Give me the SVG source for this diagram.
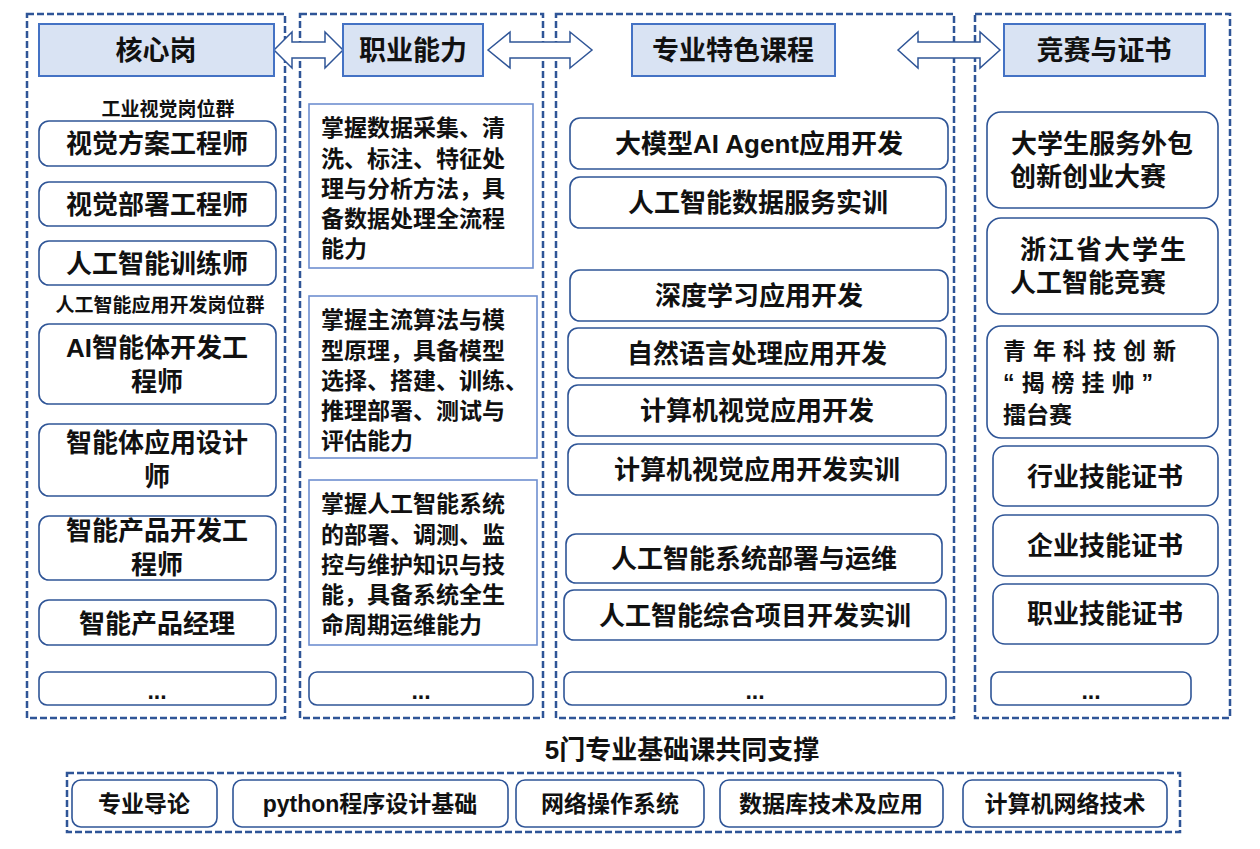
<svg xmlns="http://www.w3.org/2000/svg" width="1260" height="849" viewBox="0 0 1260 849">
<style>
text{font-family:"Liberation Sans","Noto Sans CJK SC",sans-serif;font-weight:bold;fill:#111}
.col{fill:none;stroke:#2f5597;stroke-width:2.5;stroke-dasharray:7,3}
.hd{fill:#d9e3f3;stroke:#4472c4;stroke-width:2}
.rb{fill:#fff;stroke:#2f5597;stroke-width:1.6}
.sq{fill:#fff;stroke:#6f8fd0;stroke-width:1.6}
.arr{fill:#fff;stroke:#2f5597;stroke-width:1.5}
.h{font-size:27px;text-anchor:middle}
.t{font-size:26px;text-anchor:middle}
.p{font-size:23px}
.s{font-size:19px;text-anchor:middle}
.b{font-size:23px;text-anchor:middle}
</style>
<rect width="1260" height="849" fill="#fff"/>
<g id="columns">
<rect class="col" x="27" y="14" width="258" height="704"/>
<rect class="col" x="300" y="14" width="243" height="704"/>
<rect class="col" x="556" y="14" width="398" height="704"/>
<rect class="col" x="975" y="14" width="255" height="704"/>
<rect class="col" x="67" y="773" width="1113" height="59"/>
</g>
<g id="connectors">
<path class="arr" d="M274,50 L292,32 L292,42 L325,42 L325,32 L343,50 L325,68 L325,58 L292,58 L292,68 Z"/>
<path class="arr" d="M488,50 L510,32 L510,42 L570,42 L570,32 L592,50 L570,68 L570,58 L510,58 L510,68 Z"/>
<path class="arr" d="M898,50 L918,32 L918,42 L980,42 L980,32 L1000,50 L980,68 L980,58 L918,58 L918,68 Z"/>
</g>
<g id="h1"><rect class="hd" x="39" y="24" width="235" height="52"/><text class="h" x="156" y="60">核心岗</text></g>
<g id="h2"><rect class="hd" x="343" y="24" width="140" height="52"/><text class="h" x="413" y="60">职业能力</text></g>
<g id="h3"><rect class="hd" x="632" y="24" width="203" height="52"/><text class="h" x="733" y="60">专业特色课程</text></g>
<g id="h4"><rect class="hd" x="1004" y="24" width="201" height="52"/><text class="h" x="1104" y="60">竞赛与证书</text></g>

<g id="c1">
<text class="s" x="168" y="116">工业视觉岗位群</text>
<rect class="rb" x="39" y="121" width="237" height="45" rx="10"/><text class="t" x="157" y="153">视觉方案工程师</text>
<rect class="rb" x="39" y="182" width="237" height="44" rx="10"/><text class="t" x="157" y="214">视觉部署工程师</text>
<rect class="rb" x="39" y="241" width="237" height="44" rx="10"/><text class="t" x="157" y="273">人工智能训练师</text>
<text class="s" x="160" y="312">人工智能应用开发岗位群</text>
<rect class="rb" x="39" y="324" width="237" height="80" rx="10"/><text class="t" x="157" y="357">AI智能体开发工</text><text class="t" x="157" y="391">程师</text>
<rect class="rb" x="39" y="424" width="237" height="72" rx="10"/><text class="t" x="157" y="452">智能体应用设计</text><text class="t" x="157" y="486">师</text>
<rect class="rb" x="39" y="516" width="237" height="64" rx="10"/><text class="t" x="157" y="540">智能产品开发工</text><text class="t" x="157" y="574">程师</text>
<rect class="rb" x="39" y="600" width="237" height="45" rx="10"/><text class="t" x="157" y="633">智能产品经理</text>
<rect class="rb" x="39" y="672" width="237" height="33" rx="8"/><text class="b" x="157" y="699">...</text>
</g>
<g id="c2">
<rect class="sq" x="309" y="104" width="224" height="164"/>
<text class="p" x="321" y="136">掌握数据采集、清</text><text class="p" x="321" y="167">洗、标注、特征处</text><text class="p" x="321" y="197">理与分析方法，具</text><text class="p" x="321" y="227">备数据处理全流程</text><text class="p" x="321" y="257">能力</text>
<rect class="sq" x="309" y="296" width="228" height="162"/>
<text class="p" x="321" y="328">掌握主流算法与模</text><text class="p" x="321" y="359">型原理，具备模型</text><text class="p" x="321" y="389">选择、搭建、训练、</text><text class="p" x="321" y="419">推理部署、测试与</text><text class="p" x="321" y="449">评估能力</text>
<rect class="sq" x="309" y="480" width="228" height="165"/>
<text class="p" x="321" y="512">掌握人工智能系统</text><text class="p" x="321" y="543">的部署、调测、监</text><text class="p" x="321" y="573">控与维护知识与技</text><text class="p" x="321" y="603">能，具备系统全生</text><text class="p" x="321" y="633">命周期运维能力</text>
<rect class="rb" x="309" y="672" width="224" height="33" rx="8"/><text class="b" x="421" y="699">...</text>
</g>
<g id="c3">
<rect class="rb" x="570" y="118" width="378" height="51" rx="10"/><text class="t" x="759" y="153">大模型AI Agent应用开发</text>
<rect class="rb" x="570" y="177" width="376" height="51" rx="10"/><text class="t" x="758" y="212">人工智能数据服务实训</text>
<rect class="rb" x="570" y="270" width="378" height="51" rx="10"/><text class="t" x="759" y="305">深度学习应用开发</text>
<rect class="rb" x="568" y="328" width="378" height="50" rx="10"/><text class="t" x="757" y="363">自然语言处理应用开发</text>
<rect class="rb" x="568" y="385" width="378" height="51" rx="10"/><text class="t" x="757" y="420">计算机视觉应用开发</text>
<rect class="rb" x="568" y="444" width="378" height="51" rx="10"/><text class="t" x="757" y="479">计算机视觉应用开发实训</text>
<rect class="rb" x="566" y="534" width="376" height="49" rx="10"/><text class="t" x="754" y="568">人工智能系统部署与运维</text>
<rect class="rb" x="564" y="590" width="382" height="50" rx="10"/><text class="t" x="755" y="625">人工智能综合项目开发实训</text>
<rect class="rb" x="564" y="672" width="382" height="33" rx="8"/><text class="b" x="755" y="699">...</text>
</g>
<g id="c4">
<rect class="rb" x="987" y="112" width="231" height="96" rx="14"/><text class="t" x="1102" y="153">大学生服务外包</text><text class="t" x="1088" y="186">创新创业大赛</text>
<rect class="rb" x="987" y="218" width="231" height="96" rx="14"/><text class="t" x="1104" y="259" letter-spacing="2">浙江省大学生</text><text class="t" x="1088" y="292">人工智能竞赛</text>
<rect class="rb" x="987" y="326" width="231" height="112" rx="14"/>
<text class="p" x="1003" y="359" font-size="25" letter-spacing="7">青年科技创新</text><text class="p" x="1003" y="391" font-size="25" letter-spacing="7">“揭榜挂帅”</text><text class="p" x="1003" y="423" font-size="25">擂台赛</text>
<rect class="rb" x="993" y="446" width="225" height="60" rx="12"/><text class="t" x="1105" y="486">行业技能证书</text>
<rect class="rb" x="993" y="515" width="225" height="61" rx="12"/><text class="t" x="1105" y="555">企业技能证书</text>
<rect class="rb" x="993" y="584" width="225" height="60" rx="12"/><text class="t" x="1105" y="623">职业技能证书</text>
<rect class="rb" x="991" y="672" width="200" height="33" rx="8"/><text class="b" x="1091" y="699">...</text>
</g>
<g id="base">
<text class="t" x="682" y="759">5门专业基础课共同支撑</text>
<rect class="rb" x="72" y="780" width="145" height="47" rx="9"/><text class="b" x="144" y="812">专业导论</text>
<rect class="rb" x="233" y="780" width="275" height="47" rx="9"/><text class="b" x="370" y="812">python程序设计基础</text>
<rect class="rb" x="516" y="780" width="188" height="47" rx="9"/><text class="b" x="610" y="812">网络操作系统</text>
<rect class="rb" x="720" y="780" width="223" height="47" rx="9"/><text class="b" x="831" y="812">数据库技术及应用</text>
<rect class="rb" x="963" y="780" width="204" height="47" rx="9"/><text class="b" x="1065" y="812">计算机网络技术</text>
</g>
</svg>
